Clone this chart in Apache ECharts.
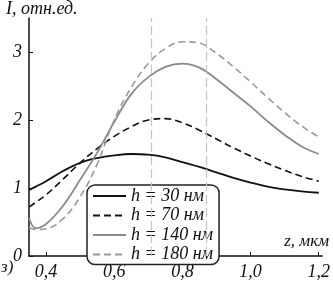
<!DOCTYPE html>
<html>
<head>
<meta charset="utf-8">
<script src="https://cdn.jsdelivr.net/npm/echarts@6/dist/echarts.min.js"></script>
<style>
  html, body { margin: 0; padding: 0; background: #fff; }
  #chart { width: 333px; height: 281px; }
</style>
</head>
<body>
<div id="chart"></div>
<script>
// z, мкм
const zVals = [0.35, 0.37, 0.4, 0.45, 0.5, 0.55, 0.6, 0.65, 0.7, 0.75, 0.8, 0.85, 0.9, 0.95, 1.0, 1.05, 1.1, 1.15, 1.2];
const h30 = [0.97, 1.02, 1.1, 1.25, 1.37, 1.44, 1.48, 1.5, 1.49, 1.45, 1.38, 1.31, 1.23, 1.15, 1.08, 1.02, 0.98, 0.95, 0.93];
const h70 = [0.72, 0.79, 0.9, 1.13, 1.37, 1.58, 1.76, 1.9, 2.0, 2.02, 1.96, 1.85, 1.72, 1.59, 1.47, 1.36, 1.26, 1.17, 1.1];
const h140 = [0.56, 0.41, 0.47, 0.74, 1.12, 1.52, 1.97, 2.38, 2.63, 2.78, 2.83, 2.77, 2.6, 2.4, 2.2, 1.98, 1.78, 1.61, 1.5];
const h180 = [0.42, 0.39, 0.4, 0.55, 0.87, 1.35, 2.0, 2.48, 2.83, 3.05, 3.15, 3.13, 2.98, 2.78, 2.56, 2.33, 2.11, 1.91, 1.75];
const seriesNames = ['h = 30 нм', 'h = 70 нм', 'h = 140 нм', 'h = 180 нм'];
const markX = [0.715, 0.868];
const xTicks = [0.4, 0.6, 0.8, 1.0, 1.2];
const yTicks = [0, 1, 2, 3];

const serif = 'Liberation Serif';

function pairs(ys) {
  return zVals.map((z, i) => [z, ys[i]]);
}

function lineSeries(name, ys, color, type, width) {
  return {
    name: name,
    type: 'line',
    data: pairs(ys),
    smooth: 0.4,
    symbol: 'none',
    lineStyle: { color: color, type: type, width: width },
    itemStyle: { color: color },
    z: 3
  };
}

const chart = echarts.init(document.getElementById('chart'), null, { renderer: 'canvas' });

const series = [
  lineSeries(seriesNames[0], h30, '#111', 'solid', 1.8),
  lineSeries(seriesNames[1], h70, '#111', [7, 4], 1.6),
  lineSeries(seriesNames[2], h140, '#8a8a8a', 'solid', 1.8),
  lineSeries(seriesNames[3], h180, '#9a9a9a', [7, 4], 1.6)
];
// вертикальные штриховые линии
series[0].markLine = {
  silent: true,
  symbol: 'none',
  label: { show: false },
  lineStyle: { color: '#c4c4c4', type: [9, 4], width: 1.2 },
  data: markX.map(v => ({ xAxis: v }))
};

chart.setOption({
  animation: false,
  grid: { left: 29, right: 1, top: 18, bottom: 25 },
  legend: {
    left: 87,
    top: 185,
    orient: 'vertical',
    itemWidth: 33,
    itemHeight: 14,
    itemGap: 1.5,
    padding: [2, 6, 1, 5],
    borderColor: '#222',
    borderWidth: 1.5,
    borderRadius: 8,
    backgroundColor: '#fff',
    itemStyle: { opacity: 0 },
    textStyle: { fontFamily: serif, fontStyle: 'italic', fontSize: 18, color: '#111', lineHeight: 15 },
    data: seriesNames
  },
  xAxis: {
    type: 'value',
    min: 0.35,
    max: 1.21,
    splitLine: { show: false },
    axisLine: { lineStyle: { color: '#111', width: 1.5 } },
    axisTick: { inside: true, length: 4, customValues: xTicks, lineStyle: { color: '#111' } },
    axisLabel: {
      customValues: xTicks,
      margin: 7,
      fontFamily: serif, fontStyle: 'italic', fontSize: 18, color: '#111',
      formatter: v => v.toFixed(1).replace('.', ',')
    }
  },
  yAxis: {
    type: 'value',
    min: 0,
    max: 3.5,
    splitLine: { show: false },
    axisLine: { lineStyle: { color: '#111', width: 1.5 } },
    axisTick: { inside: true, length: 4, customValues: yTicks, lineStyle: { color: '#111' } },
    axisLabel: {
      customValues: yTicks,
      margin: 7,
      fontFamily: serif, fontStyle: 'italic', fontSize: 18, color: '#111',
      formatter: v => String(v)
    }
  },
  graphic: [
    { type: 'text', left: 6, top: 0, style: { text: 'I, отн.ед.', fontFamily: serif, fontStyle: 'italic', fontSize: 18, fill: '#111' } },
    { type: 'text', right: 4, top: 233, style: { text: 'z, мкм', fontFamily: serif, fontStyle: 'italic', fontSize: 17, fill: '#111' } },
    { type: 'text', left: 1, top: 259, style: { text: 'з)', fontFamily: serif, fontStyle: 'italic', fontSize: 17, fill: '#111' } }
  ],
  series: series
});
</script>
</body>
</html>
